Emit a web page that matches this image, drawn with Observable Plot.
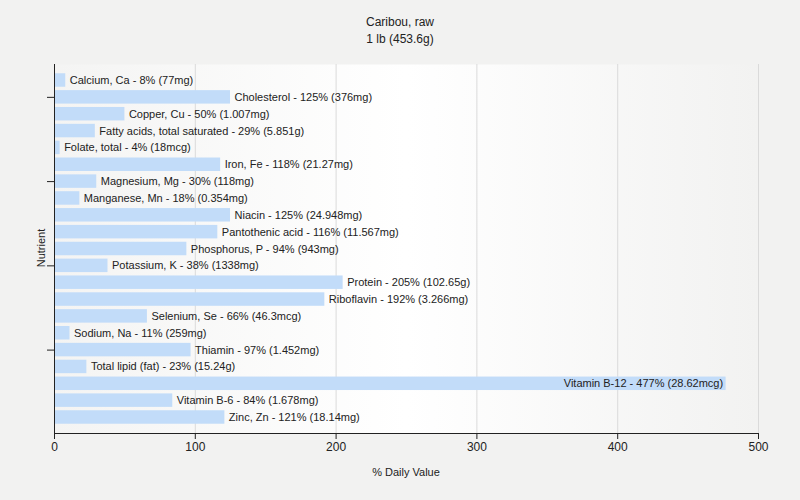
<!DOCTYPE html>
<html>
<head>
<meta charset="utf-8">
<script src="https://cdn.jsdelivr.net/npm/d3@7"></script>
<script src="https://cdn.jsdelivr.net/npm/@observablehq/plot@0.6"></script>
<style>
  html, body { margin: 0; padding: 0; background: #f2f2f1; }
  body { width: 800px; height: 500px; overflow: hidden; font-family: "Liberation Sans", Arial, sans-serif; }
  #head { height: 50px; text-align: center; font-size: 12px; color: #222; }
  #head div { line-height: 17px; }
  #head .t { padding-top: 14px; }
</style>
</head>
<body>
<div id="head"><div class="t">Caribou, raw</div><div>1 lb (453.6g)</div></div>
<div id="chart"></div>
<script>
const nutrients = ["Calcium, Ca", "Cholesterol", "Copper, Cu", "Fatty acids, total saturated", "Folate, total", "Iron, Fe", "Magnesium, Mg", "Manganese, Mn", "Niacin", "Pantothenic acid", "Phosphorus, P", "Potassium, K", "Protein", "Riboflavin", "Selenium, Se", "Sodium, Na", "Thiamin", "Total lipid (fat)", "Vitamin B-12", "Vitamin B-6", "Zinc, Zn"];
const dailyValue = [8, 125, 50, 29, 4, 118, 30, 18, 125, 116, 94, 38, 205, 192, 66, 11, 97, 23, 477, 84, 121];
const amounts = ["77mg", "376mg", "1.007mg", "5.851g", "18mcg", "21.27mg", "118mg", "0.354mg", "24.948mg", "11.567mg", "943mg", "1338mg", "102.65g", "3.266mg", "46.3mcg", "259mg", "1.452mg", "15.24g", "28.62mcg", "1.678mg", "18.14mg"];
const xTicks = [0, 100, 200, 300, 400, 500];
const yTickNames = ["Cholesterol", "Magnesium, Mg", "Potassium, K", "Thiamin"];

const data = nutrients.map((n, i) => ({
  name: n, value: dailyValue[i],
  label: `${n} - ${dailyValue[i]}% (${amounts[i]})`
}));
const maxV = d3.max(dailyValue);
const outside = data.filter(d => d.value !== maxV);
const inside = data.filter(d => d.value === maxV);

const chart = Plot.plot({
  width: 800,
  height: 450,
  marginTop: 14,
  marginBottom: 67,
  marginLeft: 54,
  marginRight: 42,
  style: { fontFamily: "Liberation Sans, Arial, sans-serif", fontSize: "11px", background: "transparent", color: "#222" },
  x: { domain: [0, 500], ticks: xTicks, label: null },
  y: { domain: nutrients, paddingInner: 0.2, paddingOuter: 0.55, round: false, label: null },
  marks: [
    Plot.frame({ fill: "url(#bggrad)", stroke: "none" }),
    Plot.gridX(xTicks.slice(1), { stroke: "#dadada", strokeOpacity: 1 }),
    Plot.barX(data, { x1: d => 0.4, x2: "value", y: "name", fill: "#c2dcf9" }),
    Plot.text(outside, { x: "value", y: "name", text: "label", textAnchor: "start", dx: 4, fill: "#222", fontSize: 11 }),
    Plot.text(inside, { x: "value", y: "name", text: "label", textAnchor: "end", dx: -3, fill: "#222", fontSize: 11 }),
    Plot.ruleX([0], { stroke: "#222" }),
    Plot.axisX({ ticks: xTicks, tickSize: 6, tickPadding: 3, fontSize: 12, stroke: "#222", label: null }),
    Plot.axisY({ ticks: yTickNames, tickSize: 7, tickFormat: () => "", stroke: "#222", label: null }),
    Plot.frame({ anchor: "bottom", stroke: "#222" })
  ]
});

const svg = d3.select(chart);
const defs = svg.insert("defs", ":first-child");
const g = defs.append("linearGradient").attr("id", "bggrad").attr("x1", "0").attr("x2", "1").attr("y1", "0").attr("y2", "0");
g.append("stop").attr("offset", "0").attr("stop-color", "#f4f4f3");
g.append("stop").attr("offset", "0.5").attr("stop-color", "#ffffff");
g.append("stop").attr("offset", "1").attr("stop-color", "#f2f2f1");

svg.append("text")
  .attr("transform", "translate(45,198) rotate(-90)")
  .attr("text-anchor", "middle")
  .attr("font-size", 11)
  .attr("fill", "#222")
  .text("Nutrient");
svg.append("text")
  .attr("x", 406).attr("y", 426)
  .attr("text-anchor", "middle")
  .attr("font-size", 11)
  .attr("fill", "#222")
  .text("% Daily Value");

document.getElementById("chart").appendChild(chart);
</script>
</body>
</html>
